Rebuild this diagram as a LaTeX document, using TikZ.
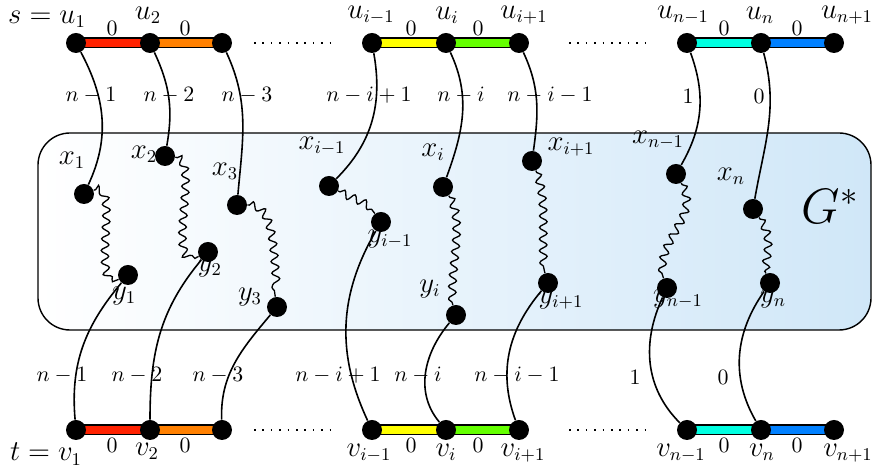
\documentclass[tikz,border=0pt]{standalone}
\usetikzlibrary{decorations.pathmorphing}
\definecolor{cA}{RGB}{255,34,0}
\definecolor{cB}{RGB}{255,128,0}
\definecolor{cC}{RGB}{255,255,0}
\definecolor{cD}{RGB}{100,255,0}
\definecolor{cE}{RGB}{0,255,225}
\definecolor{cF}{RGB}{0,128,255}
\definecolor{gbox}{RGB}{208,231,248}
\begin{document}
\begin{tikzpicture}[x=0.5pt,y=0.5pt,
  dot/.style={circle,fill=black,inner sep=0pt,minimum size=10pt},
  lab/.style={inner sep=0pt,font=\fontsize{13.5}{16}\selectfont},
  wlab/.style={inner sep=0pt,font=\fontsize{10.5}{12}\selectfont},
  curve/.style={line width=0.8pt},
  wig/.style={line width=0.65pt,decorate,decoration={snake,amplitude=1.9pt,segment length=5.8pt,pre length=1pt,post length=1pt}},
  barout/.style={line width=5.5pt,black},
  barin/.style={line width=4pt},
  dotrow/.style={line width=0.8pt,dash pattern=on 0.8pt off 3.4pt}]
\useasboundingbox (0,0) rectangle (875,-469);
% G* box
\draw[line width=0.7pt,left color=white,right color=gbox,rounded corners=16pt]
  (38,-133) rectangle (871,-330);
\node[inner sep=0pt,font=\fontsize{23}{28}\selectfont] (G) at (830,-206) {$G^*$};
% coordinates of dots
\foreach \n/\x in {u1/76,u2/150,u3/222,ua/372,ub/446,uc/519,ud/687,ue/761,uf/834}
  \coordinate (\n c) at (\x,-43);
\foreach \n/\x in {v1/76,v2/150,v3/222,va/372,vb/446,vc/519,vd/687,ve/761,vf/834}
  \coordinate (\n c) at (\x,-430);
% bars
\foreach \a/\b/\c in {u1/u2/cA,u2/u3/cB,ua/ub/cC,ub/uc/cD,ud/ue/cE,ue/uf/cF,
                      v1/v2/cA,v2/v3/cB,va/vb/cC,vb/vc/cD,vd/ve/cE,ve/vf/cF}{
  \draw[barout] (\a c) -- (\b c);
  \draw[barin,\c] (\a c) -- (\b c);
}
% dot nodes
\foreach \n in {u1,u2,u3,ua,ub,uc,ud,ue,uf,v1,v2,v3,va,vb,vc,vd,ve,vf}
  \node[dot] (\n) at (\n c) {};
\node[dot] (x1) at (84,-194) {};
\node[dot] (y1) at (128,-275) {};
\node[dot] (x2) at (165,-156) {};
\node[dot] (y2) at (208,-252) {};
\node[dot] (x3) at (237,-205) {};
\node[dot] (y3) at (277,-307) {};
\node[dot] (xa) at (329,-186) {};
\node[dot] (ya) at (381,-222) {};
\node[dot] (xb) at (443,-187) {};
\node[dot] (yb) at (456,-315) {};
\node[dot] (xc) at (532,-161) {};
\node[dot] (yc) at (548,-283) {};
\node[dot] (xd) at (676,-174) {};
\node[dot] (yd) at (667,-288) {};
\node[dot] (xe) at (753,-209) {};
\node[dot] (ye) at (770,-283) {};
% dotted rows
\coordinate (d1a) at (254,-43); \coordinate (d1b) at (332,-43);
\coordinate (d2a) at (569,-43); \coordinate (d2b) at (647,-43);
\coordinate (d3a) at (254,-430); \coordinate (d3b) at (332,-430);
\coordinate (d4a) at (569,-430); \coordinate (d4b) at (647,-430);
\draw[dotrow] (d1a) -- (d1b);
\draw[dotrow] (d2a) -- (d2b);
\draw[dotrow] (d3a) -- (d3b);
\draw[dotrow] (d4a) -- (d4b);
% upper curves u -> x
\draw[curve] (u1) to[out=-62,in=65] (x1);
\draw[curve] (u2) to[out=-65,in=80] (x2);
\draw[curve] (u3) to[out=-65,in=85] (x3);
\draw[curve] (ua) to[out=-80,in=45] (xa);
\draw[curve] (ub) to[out=-65,in=70] (xb);
\draw[curve] (uc) to[out=-65,in=82] (xc);
\draw[curve] (ud) to[out=-70,in=60] (xd);
\draw[curve] (ue) to[out=-75,in=80] (xe);
% wiggly paths x -> y
\draw[wig] (x1) .. controls (120,-180) and (85,-295) .. (y1);
\draw[wig] (x2) .. controls (200,-160) and (160,-275) .. (y2);
\draw[wig] (x3) .. controls (275,-205) and (270,-265) .. (y3);
\draw[wig] (xa) .. controls (355,-200) and (365,-200) .. (ya);
\draw[wig] (xb) .. controls (465,-220) and (445,-280) .. (yb);
\draw[wig] (xc) .. controls (548,-200) and (538,-250) .. (yc);
\draw[wig] (xd) .. controls (700,-215) and (650,-240) .. (yd);
\draw[wig] (xe) .. controls (775,-240) and (760,-260) .. (ye);
% lower curves y -> v
\draw[curve] (y1) to[out=-130,in=95] (v1);
\draw[curve] (y2) to[out=-130,in=90] (v2);
\draw[curve] (y3) to[out=-130,in=92] (v3);
\draw[curve] (ya) to[out=-120,in=115] (va);
\draw[curve] (yb) to[out=-130,in=130] (vb);
\draw[curve] (yc) to[out=-130,in=110] (vc);
\draw[curve] (yd) to[out=-115,in=135] (vd);
\draw[curve] (ye) to[out=-125,in=120] (ve);
% node labels top
\node[lab] (lu1) at (47,-19) {$s=u_1$};
\node[lab] (lu2) at (148,-15) {$u_2$};
\node[lab] (lua) at (371,-15) {$u_{i-1}$};
\node[lab] (lub) at (447,-15) {$u_i$};
\node[lab] (luc) at (524,-15) {$u_{i+1}$};
\node[lab] (lud) at (683,-15) {$u_{n-1}$};
\node[lab] (lue) at (760,-15) {$u_n$};
\node[lab] (luf) at (847,-15) {$u_{n+1}$};
% node labels bottom
\node[lab] (lv1) at (46,-454) {$t=v_1$};
\node[lab] (lv2) at (147,-451) {$v_2$};
\node[lab] (lva) at (369,-453) {$v_{i-1}$};
\node[lab] (lvb) at (446,-452) {$v_i$};
\node[lab] (lvc) at (523,-453) {$v_{i+1}$};
\node[lab] (lvd) at (681,-453) {$v_{n-1}$};
\node[lab] (lve) at (762,-452) {$v_n$};
\node[lab] (lvf) at (848,-453) {$v_{n+1}$};
% inner labels
\node[lab] (lx1) at (72,-160) {$x_1$};
\node[lab] (lx2) at (144,-154) {$x_2$};
\node[lab] (lx3) at (225,-171) {$x_3$};
\node[lab] (ly1) at (124,-296) {$y_1$};
\node[lab] (ly2) at (210,-268) {$y_2$};
\node[lab] (ly3) at (250,-297) {$y_3$};
\node[lab] (lxa) at (322,-146) {$x_{i-1}$};
\node[lab] (lxb) at (433,-152) {$x_i$};
\node[lab] (lxc) at (571,-147) {$x_{i+1}$};
\node[lab] (lya) at (390,-239) {$y_{i-1}$};
\node[lab] (lyb) at (430,-289) {$y_i$};
\node[lab] (lyc) at (561,-300) {$y_{i+1}$};
\node[lab] (lxd) at (658,-140) {$x_{n-1}$};
\node[lab] (lxe) at (731,-176) {$x_n$};
\node[lab] (lyd) at (678,-299) {$y_{n-1}$};
\node[lab] (lye) at (773,-299) {$y_n$};
% weights on bars
\foreach \x [count=\k] in {112,185,411,478,724,797}{
  \node[wlab] (wt\k) at (\x,-28) {$0$};
  \node[wlab] (wb\k) at (\x,-445) {$0$};
}
% weights on upper curves
\node[wlab] (a1) at (91,-95) {$n-1$};
\node[wlab] (a2) at (169,-95) {$n-2$};
\node[wlab] (a3) at (247,-95) {$n-3$};
\node[wlab] (a4) at (369,-95) {$n-i+1$};
\node[wlab] (a5) at (461,-95) {$n-i$};
\node[wlab] (a6) at (550,-95) {$n-i-1$};
\node[wlab] (a7) at (688,-96) {$1$};
\node[wlab] (a8) at (759,-96) {$0$};
% weights on lower curves
\node[wlab] (b1) at (62,-375) {$n-1$};
\node[wlab] (b2) at (137,-375) {$n-2$};
\node[wlab] (b3) at (218,-375) {$n-3$};
\node[wlab] (b4) at (338,-375) {$n-i+1$};
\node[wlab] (b5) at (418,-375) {$n-i$};
\node[wlab] (b6) at (517,-375) {$n-i-1$};
\node[wlab] (b7) at (635,-377) {$1$};
\node[wlab] (b8) at (723,-377) {$0$};
\end{tikzpicture}
\end{document}
